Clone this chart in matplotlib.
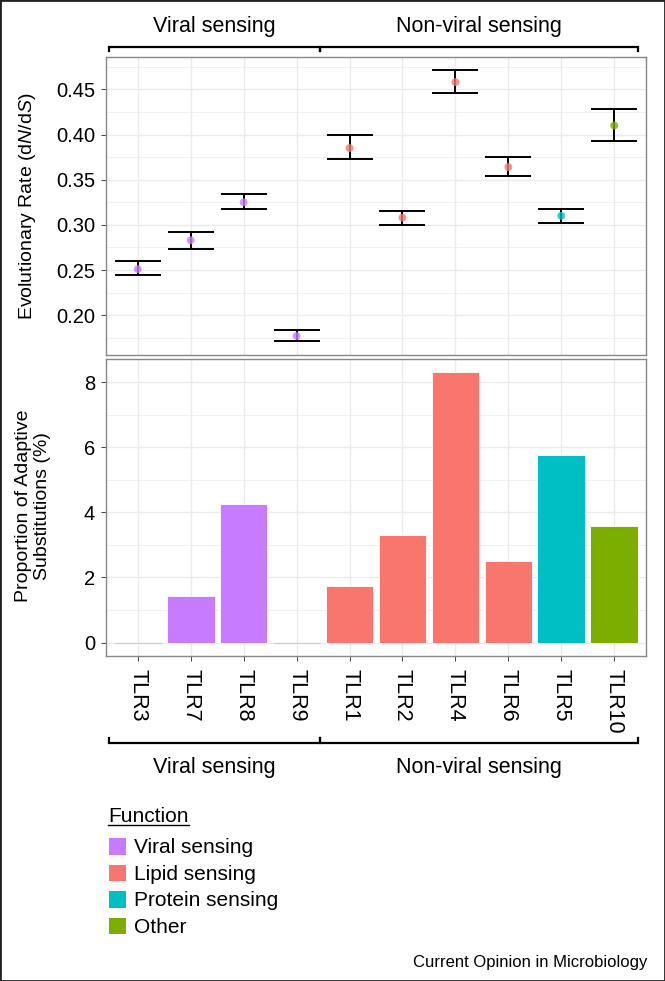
import matplotlib
matplotlib.use("Agg")
import matplotlib.pyplot as plt
from matplotlib.patches import Rectangle
from matplotlib.lines import Line2D

plt.rcParams['font.family'] = ['Liberation Sans', 'DejaVu Sans']
plt.rcParams['mathtext.fontset'] = 'custom'
plt.rcParams['mathtext.rm'] = 'Liberation Sans'
plt.rcParams['mathtext.it'] = 'Liberation Sans:style=italic'

# data
genes = ['TLR3', 'TLR7', 'TLR8', 'TLR9', 'TLR1', 'TLR2', 'TLR4', 'TLR6', 'TLR5', 'TLR10']
func = ['Viral sensing'] * 4 + ['Lipid sensing'] * 4 + ['Protein sensing', 'Other']
rate = [0.251, 0.283, 0.325, 0.177, 0.385, 0.308, 0.458, 0.364, 0.310, 0.410]
rate_lo = [0.245, 0.2735, 0.3176, 0.171, 0.3725, 0.300, 0.4456, 0.3544, 0.3025, 0.3923]
rate_hi = [0.2595, 0.2925, 0.334, 0.184, 0.3996, 0.3157, 0.4713, 0.3753, 0.3176, 0.4282]
adaptive = [0, 1.42, 4.27, 0, 1.74, 3.30, 8.30, 2.51, 5.76, 3.58]

functions = ['Viral sensing', 'Lipid sensing', 'Protein sensing', 'Other']
fcolors = ['#C77CFF', '#F8766D', '#00BFC4', '#7CAE00']
groups = ['Viral sensing', 'Non-viral sensing']
group_first = [0, 4]
group_last = [3, 9]

cmap = dict(zip(functions, fcolors))
cols = [cmap[f] for f in func]
x = list(range(len(genes)))

W, H = 665, 981
fig = plt.figure(figsize=(W / 100, H / 100), dpi=100)

def frac(l, t, r, b):
    return [l / W, 1 - b / H, (r - l) / W, (b - t) / H]

ax1 = fig.add_axes(frac(106, 57, 646, 355))
ax2 = fig.add_axes(frac(106, 359, 646, 656))

grid_c = '#EBEBEB'
for ax in (ax1, ax2):
    ax.set_xlim(-0.6, len(genes) - 0.4)
    ax.set_xticks(x)
    ax.set_axisbelow(True)
    ax.grid(True, which='major', color=grid_c, lw=1.0)
    ax.grid(True, which='minor', axis='y', color=grid_c, lw=0.5)
    for s in ax.spines.values():
        s.set_color('#888888')
        s.set_linewidth(1.0)
    ax.tick_params(axis='y', which='major', length=3.3, width=0.7, color='#444444',
                   labelsize=14.5, pad=4.5, labelcolor='black')
    ax.tick_params(axis='y', which='minor', length=0)

# top panel: evolutionary rate
yerr = [[r - lo for r, lo in zip(rate, rate_lo)], [hi - r for r, hi in zip(rate, rate_hi)]]
ax1.errorbar(x, rate, yerr=yerr, fmt='none', ecolor='black', elinewidth=1.4,
             capsize=16.5, capthick=1.4, zorder=3)
ax1.scatter(x, rate, c=cols, s=32, alpha=0.8, edgecolors='none', zorder=4)
ax1.set_ylim(0.156, 0.4858)
ax1.set_yticks([0.20, 0.25, 0.30, 0.35, 0.40, 0.45])
ax1.set_yticklabels(['%.2f' % v for v in [0.20, 0.25, 0.30, 0.35, 0.40, 0.45]])
ax1.set_yticks([0.175, 0.225, 0.275, 0.325, 0.375, 0.425, 0.475], minor=True)
ax1.tick_params(axis='x', length=0, labelbottom=False)

# bottom panel: adaptive substitutions
ax2.bar(x, adaptive, width=0.9, color=cols, edgecolor='white', linewidth=0.6, zorder=3)
zero = [i for i, v in enumerate(adaptive) if v == 0]
ax2.hlines([0] * len(zero), [i - 0.45 for i in zero], [i + 0.45 for i in zero],
           colors=[cols[i] for i in zero], lw=0.8, alpha=0.5, zorder=3)
ax2.set_ylim(-0.415, 8.715)
ax2.set_yticks([0, 2, 4, 6, 8])
ax2.set_yticks([1, 3, 5, 7], minor=True)
ax2.set_xticklabels(genes, rotation=-90, fontsize=15.5, va='top', ha='center')
ax2.tick_params(axis='x', length=3.6, width=0.7, color='#444444', pad=5.5)

fig.text(27 / W, 1 - 206 / H, 'Evolutionary Rate (d$\\mathit{N}$/d$\\mathit{S}$)', rotation=90,
         ha='center', va='center', fontsize=14)
fig.text(33 / W, 1 - 506 / H, 'Proportion of Adaptive\nSubstitutions (%)', rotation=90,
         ha='center', va='center', fontsize=14, linespacing=1.12, multialignment='center')

# group brackets above and below
t1 = ax1.get_xaxis_transform()
t2 = ax2.get_xaxis_transform()
for g, a, b in zip(groups, group_first, group_last):
    xa, xb = a - 0.55, b + 0.45
    ax1.plot([xa, xa, xb, xb], [1.021, 1.035, 1.035, 1.021], transform=t1,
             color='black', lw=1.6, clip_on=False, solid_joinstyle='miter')
    ax1.text((xa + xb) / 2, 1.101, g, transform=t1, ha='center', va='center', fontsize=15.5)
    ax2.plot([xa, xa, xb, xb], [-0.276, -0.293, -0.293, -0.276], transform=t2,
             color='black', lw=1.6, clip_on=False, solid_joinstyle='miter')
    ax2.text((xa + xb) / 2, -0.374, g, transform=t2, ha='center', va='center', fontsize=15.5)

# legend
title = fig.text(108 / W, 1 - 822.5 / H, 'Function', ha='left', va='baseline', fontsize=15)
for k, (f, c) in enumerate(zip(functions, fcolors)):
    top = 838 + k * 26.5
    fig.add_artist(Rectangle((109 / W, 1 - (top + 16.5) / H), 17 / W, 16.5 / H,
                             transform=fig.transFigure, facecolor=c, edgecolor='none'))
    fig.text(134 / W, 1 - (top + 15.3) / H, f, ha='left', va='baseline', fontsize=15)

fig.text(647 / W, 1 - 966.5 / H, 'Current Opinion in Microbiology', ha='right',
         va='baseline', fontsize=12)

fig.canvas.draw()
bb = title.get_window_extent()
fig.add_artist(Line2D([bb.x0 / W, bb.x1 / W], [1 - 825 / H, 1 - 825 / H],
                      transform=fig.transFigure, color='black', lw=1.0))
fig.add_artist(Rectangle((0, 0), 1, 1, transform=fig.transFigure, fill=False,
                         edgecolor='#222222', lw=2.0))

fig.savefig('out.png', dpi=100)
